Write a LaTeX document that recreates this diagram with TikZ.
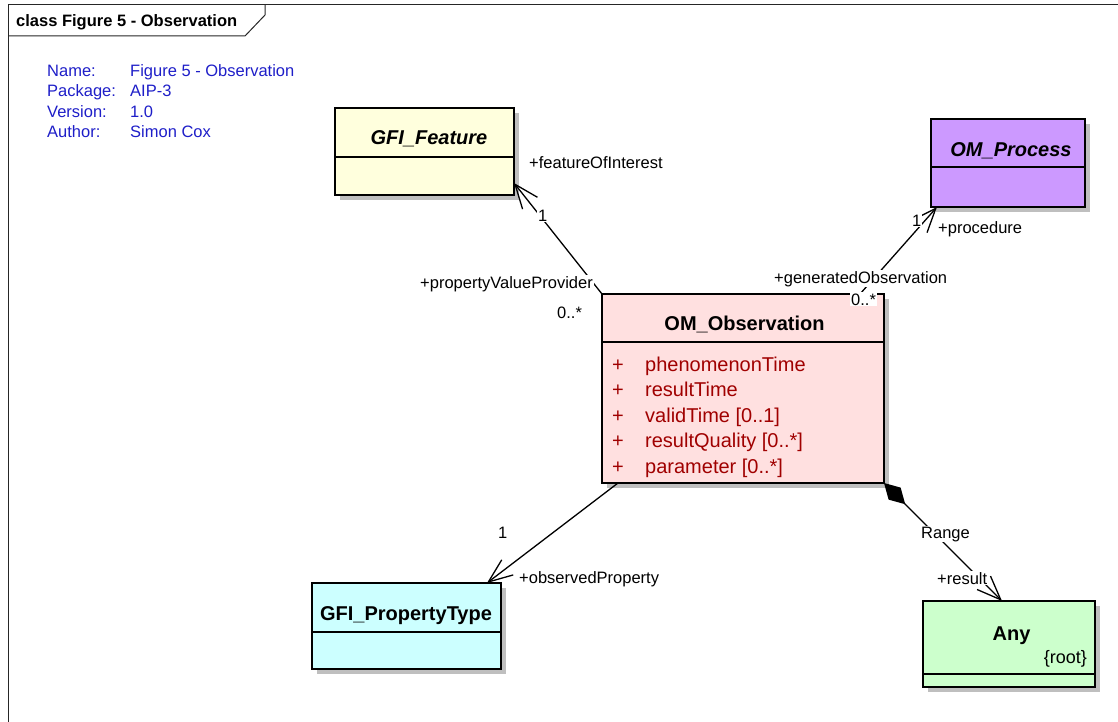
\documentclass[tikz,border=0pt]{standalone}
\usepackage{fontspec}
\setmainfont{Liberation Sans}
\usetikzlibrary{arrows.meta,shadows}
\definecolor{featfill}{RGB}{255,255,221}
\definecolor{procfill}{RGB}{204,153,255}
\definecolor{obsfill}{RGB}{255,224,224}
\definecolor{propfill}{RGB}{204,255,255}
\definecolor{anyfill}{RGB}{204,255,204}
\definecolor{infoblue}{RGB}{30,30,200}
\definecolor{attrred}{RGB}{160,0,0}
\begin{document}
\begin{tikzpicture}[x=1pt,y=-1pt,
  cls/.style={draw=black, line width=1.5pt, anchor=north west, inner sep=0pt, outer sep=0pt,
    drop shadow={shadow xshift=5pt, shadow yshift=-5pt, fill=black!25, opacity=1}},
  divider/.style={line width=1.5pt},
  lbl/.style={font=\fontsize{16.5}{19}\selectfont, fill=white, inner sep=1pt, anchor=base west},
  cname/.style={font=\fontsize{20}{24}\selectfont\bfseries, anchor=base, inner sep=0pt},
  attr/.style={font=\fontsize{20}{24}\selectfont, text=attrred, anchor=base west, inner sep=0pt},
  info/.style={font=\fontsize{16.5}{19}\selectfont, text=infoblue, anchor=base west, inner sep=0pt},
  assoc/.style={line width=1.3pt, -{Straight Barb[length=24pt,width=19pt]}},
  comp/.style={line width=1.3pt, {Diamond[length=30pt,width=17pt]}-{Straight Barb[length=24pt,width=19pt]}}]
\useasboundingbox (0,0) rectangle (1118,722);

% diagram frame and title tab
\draw[line width=1pt, black!85] (8,722) -- (8,5) -- (1118,5);
\draw[line width=1pt, black!85] (8,36) -- (245,36) -- (265,15) -- (265,5);
\node[anchor=base west, inner sep=0pt, font=\fontsize{16.5}{19}\selectfont\bfseries] (title) at (16,27) {class Figure 5 - Observation};

% diagram properties
\node[info] (k1) at (47,77) {Name:};
\node[info] (k2) at (47,97) {Package:};
\node[info] (k3) at (47,117.5) {Version:};
\node[info] (k4) at (47,138) {Author:};
\node[info] (v1) at (130,77) {Figure 5 - Observation};
\node[info] (v2) at (130,97) {AIP-3};
\node[info] (v3) at (130,117.5) {1.0};
\node[info] (v4) at (130,138) {Simon Cox};

% classes
\node[cls, fill=featfill, minimum width=179pt, minimum height=87pt] (feat) at (335,108) {};
\draw[divider] ([yshift=-49pt]feat.north west) -- ([yshift=-49pt]feat.north east);
\node[cname, font=\fontsize{20}{24}\selectfont\bfseries\itshape] (featname) at (429,145) {GFI\_Feature};

\node[cls, fill=procfill, minimum width=154pt, minimum height=88pt] (proc) at (931,119) {};
\draw[divider] ([yshift=-48pt]proc.north west) -- ([yshift=-48pt]proc.north east);
\node[cname, font=\fontsize{20}{24}\selectfont\bfseries\itshape] (procname) at (1011,156.5) {OM\_Process};

\node[cls, fill=obsfill, minimum width=282pt, minimum height=189pt] (obs) at (602,294) {};
\draw[divider] ([yshift=-48pt]obs.north west) -- ([yshift=-48pt]obs.north east);
\node[cname] (obsname) at (744.5,330) {OM\_Observation};
\foreach \i/\a in {0/phenomenonTime, 1/resultTime, 2/{validTime [0..1]}, 3/{resultQuality [0..*]}, 4/{parameter [0..*]}}{
  \node[attr] (vis\i) at (612,371+25.5*\i) {+};
  \node[attr] (att\i) at (645,371+25.5*\i) {\a};
}

\node[cls, fill=propfill, minimum width=189pt, minimum height=86pt] (prop) at (312,583) {};
\draw[divider] ([yshift=-49pt]prop.north west) -- ([yshift=-49pt]prop.north east);
\node[cname] (propname) at (406,620) {GFI\_PropertyType};

\node[cls, fill=anyfill, minimum width=172pt, minimum height=86pt] (any) at (923,601) {};
\draw[divider] ([yshift=-73pt]any.north west) -- ([yshift=-73pt]any.north east);
\node[cname] (anyname) at (1011.5,640) {Any};
\node[anchor=base east, inner sep=0pt, font=\fontsize{18}{22}\selectfont] (root) at (1087,663) {\{root\}};

% associations
\draw[assoc] (obs.north west) -- ([yshift=-75pt]feat.north east);
\draw[assoc] ([xshift=-24pt]obs.north east) -- ([xshift=6pt]proc.south west);
\draw[assoc] ([xshift=16pt]obs.south west) -- ([xshift=175pt]prop.north west);
\draw[comp] (obs.south east) -- ([xshift=79pt]any.north west);

% role names and multiplicities
\node[lbl] (l1) at (528,168) {+featureOfInterest};
\node[lbl] (l2) at (537,221) {1};
\node[lbl] (l3) at (419,288) {+propertyValueProvider};
\node[lbl] (l4) at (556,318) {0..*};
\node[lbl] (l5) at (773,283) {+generatedObservation};
\node[lbl] (l6) at (850,305) {0..*};
\node[lbl] (l7) at (911,226) {1};
\node[lbl] (l8) at (937,233) {+procedure};
\node[lbl] (l9) at (497,538) {1};
\node[lbl] (l10) at (518,583) {+observedProperty};
\node[lbl] (l11) at (920,538) {Range};
\node[lbl] (l12) at (936,584) {+result};
\end{tikzpicture}
\end{document}
